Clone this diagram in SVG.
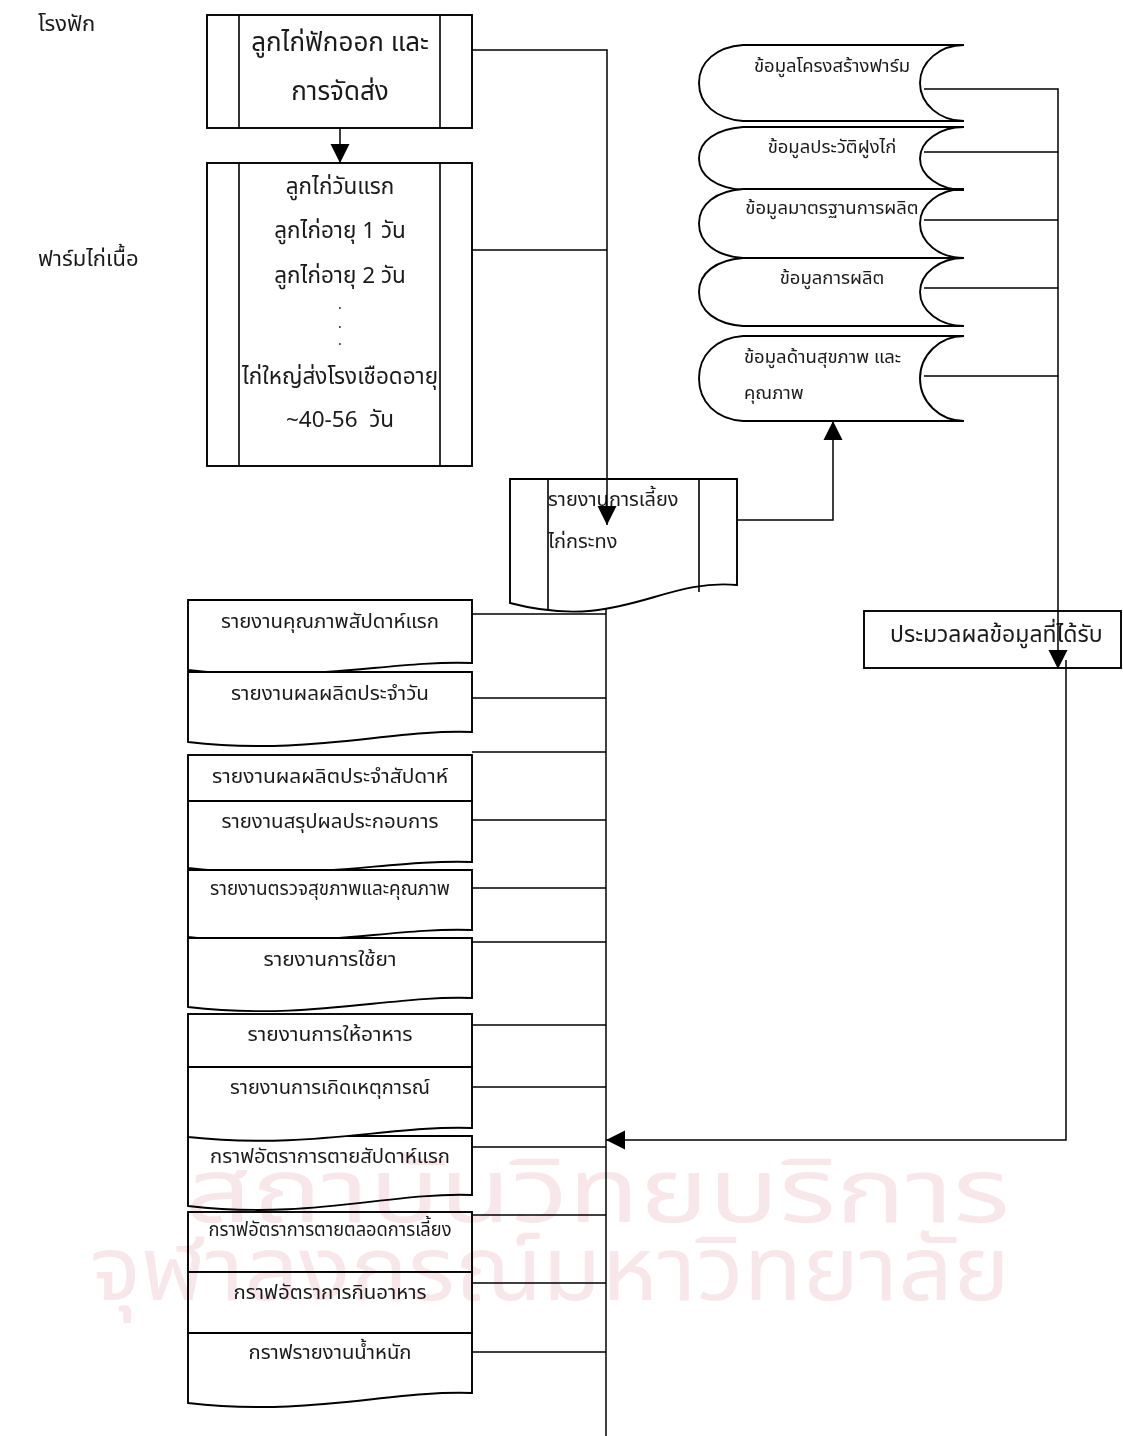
<svg xmlns="http://www.w3.org/2000/svg" width="1123" height="1436" viewBox="0 0 1123 1436">
<defs>
<style>
.s{fill:#fff;stroke:#000;stroke-width:1.9}
.b{fill:none;stroke:#000;stroke-width:1.6}
.c{fill:none;stroke:#000;stroke-width:1.5}
text{font-family:"Noto Sans Thai","Tahoma","DejaVu Sans",sans-serif;fill:#1a1a1a}
.t1{font-size:26px}
.t2{font-size:22.5px}
.tr{font-size:20px}
.t3{font-size:18.5px}
.t5{font-size:20px}
.tp{font-size:23px}
.tl{font-size:22px}
.t4{font-size:14px}
.m{text-anchor:middle}
.wm{font-size:90px;fill:#f7e7eb}
#watermark{mix-blend-mode:multiply}
</style>
<marker id="ah" viewBox="0 0 10 10" refX="10" refY="5" markerWidth="19" markerHeight="20" markerUnits="userSpaceOnUse" orient="auto">
<path d="M0,0 L10,5 L0,10 Z" fill="#000"/>
</marker>
</defs>
<rect width="1123" height="1436" fill="#fff"/>
<g id="lane-labels">
<text class="tl" x="38" y="31">โรงฟัก</text>
<text class="tl" x="38" y="266">ฟาร์มไก่เนื้อ</text>
</g>
<g id="hatchery">
<rect class="s" x="207" y="15" width="265" height="113"/>
<path class="b" d="M239,15 V128 M440,15 V128"/>
<text class="t1 m" x="340" y="51">ลูกไก่ฟักออก และ</text>
<text class="t1 m" x="340" y="100">การจัดส่ง</text>
</g>
<g id="farm">
<rect class="s" x="207" y="163" width="265" height="303"/>
<path class="b" d="M239,163 V466 M440,163 V466"/>
<text class="t2 m" x="340" y="194">ลูกไก่วันแรก</text>
<text class="t2 m" x="340" y="238">ลูกไก่อายุ 1 วัน</text>
<text class="t2 m" x="340" y="283">ลูกไก่อายุ 2 วัน</text>
<text class="t4 m" x="340" y="309">.</text>
<text class="t4 m" x="340" y="328">.</text>
<text class="t4 m" x="340" y="345">.</text>
<text class="t2 m" x="340" y="384">ไก่ใหญ่ส่งโรงเชือดอายุ</text>
<text class="t2 m" x="340" y="427" xml:space="preserve">~40-56  วัน</text>
</g>
<g id="broiler-report">
<path class="s" d="M510,479 H737 V585 C660,578 620,632 510,603 Z"/>
<path class="b" d="M548,479 V611 M699,479 V592"/>
<text class="tr" x="548" y="506">รายงานการเลี้ยง</text>
<text class="tr" x="548" y="548">ไก่กระทง</text>
</g>
<g id="data-farm-structure">
<path class="s" d="M743,45 H964 A44,38 0 0 0 964,121 H743 C716,119 699,104 699,83 C699,62 716,47 743,45 Z"/>
<text class="t3 m" x="832" y="72">ข้อมูลโครงสร้างฟาร์ม</text>
</g>
<g id="data-flock-history">
<path class="s" d="M743,127 H964 A44,31.5 0 0 0 964,190 H743 C716,188 699,176 699,158.5 C699,141 716,129 743,127 Z"/>
<text class="t3 m" x="832" y="153">ข้อมูลประวัติฝูงไก่</text>
</g>
<g id="data-standard">
<path class="s" d="M743,189 H964 A44,34.5 0 0 0 964,258 H743 C716,256 699,243 699,223.5 C699,204 716,191 743,189 Z"/>
<text class="t3 m" x="832" y="214">ข้อมูลมาตรฐานการผลิต</text>
</g>
<g id="data-production">
<path class="s" d="M743,258 H964 A44,34 0 0 0 964,326 H743 C716,324 699,311 699,292 C699,273 716,260 743,258 Z"/>
<text class="t3 m" x="832" y="284">ข้อมูลการผลิต</text>
</g>
<g id="data-health">
<path class="s" d="M743,336 H964 A44,42.5 0 0 0 964,421 H743 C716,419 699,402 699,378.5 C699,355 716,338 743,336 Z"/>
<text class="t3" x="744" y="363">ข้อมูลด้านสุขภาพ และ</text>
<text class="t3" x="744" y="399">คุณภาพ</text>
</g>
<g id="process">
<rect class="s" x="864" y="611" width="257" height="57"/>
<text class="tp" x="890" y="642">ประมวลผลข้อมูลที่ได้รับ</text>
</g>
<g id="doc-week1-quality">
<path class="s" d="M188,600 H472 V663 C390,660 310,684 188,670 Z"/>
<text class="t5 m" x="330" y="628" textLength="218" lengthAdjust="spacingAndGlyphs">รายงานคุณภาพสัปดาห์แรก</text>
</g>
<g id="doc-daily">
<path class="s" d="M188,672 H472 V732 C390,729 310,756 188,742 Z"/>
<text class="t5 m" x="330" y="700" textLength="198" lengthAdjust="spacingAndGlyphs">รายงานผลผลิตประจำวัน</text>
</g>
<g id="doc-weekly">
<rect class="s" x="188" y="755" width="284" height="46"/>
<text class="t5 m" x="330" y="783" textLength="236" lengthAdjust="spacingAndGlyphs">รายงานผลผลิตประจำสัปดาห์</text>
</g>
<g id="doc-summary">
<path class="s" d="M188,801 H472 V862 C390,859 310,882 188,868 Z"/>
<text class="t5 m" x="330" y="828" textLength="217" lengthAdjust="spacingAndGlyphs">รายงานสรุปผลประกอบการ</text>
</g>
<g id="doc-health">
<path class="s" d="M188,870 H472 V930 C390,927 310,951 188,937 Z"/>
<text class="t5 m" x="330" y="895" textLength="240" lengthAdjust="spacingAndGlyphs">รายงานตรวจสุขภาพและคุณภาพ</text>
</g>
<g id="doc-drug">
<path class="s" d="M188,938 H472 V998 C390,995 310,1021 188,1007 Z"/>
<text class="t5 m" x="330" y="966" textLength="133" lengthAdjust="spacingAndGlyphs">รายงานการใช้ยา</text>
</g>
<g id="doc-feeding">
<rect class="s" x="188" y="1014" width="284" height="53"/>
<text class="t5 m" x="330" y="1041" textLength="165" lengthAdjust="spacingAndGlyphs">รายงานการให้อาหาร</text>
</g>
<g id="doc-week1-mortality">
<path class="s" d="M188,1136 H472 V1195 C390,1192 310,1220 188,1206 Z"/>
<text class="t5 m" x="330" y="1163" textLength="240" lengthAdjust="spacingAndGlyphs">กราฟอัตราการตายสัปดาห์แรก</text>
</g>
<g id="doc-incident">
<path class="s" d="M188,1067 H472 V1128 C390,1125 310,1150 188,1137 Z"/>
<text class="t5 m" x="330" y="1094" textLength="200" lengthAdjust="spacingAndGlyphs">รายงานการเกิดเหตุการณ์</text>
</g>
<g id="doc-mortality">
<rect class="s" x="188" y="1212" width="284" height="60"/>
<text class="t5 m" x="330" y="1236" textLength="243" lengthAdjust="spacingAndGlyphs">กราฟอัตราการตายตลอดการเลี้ยง</text>
</g>
<g id="doc-feed-rate">
<rect class="s" x="188" y="1272" width="284" height="61"/>
<text class="t5 m" x="330" y="1299" textLength="193" lengthAdjust="spacingAndGlyphs">กราฟอัตราการกินอาหาร</text>
</g>
<g id="doc-weight">
<path class="s" d="M188,1333 H472 V1393 C390,1390 310,1417 188,1403 Z"/>
<text class="t5 m" x="330" y="1359" textLength="163" lengthAdjust="spacingAndGlyphs">กราฟรายงานน้ำหนัก</text>
</g>
<g id="connectors">
<path class="c" d="M472,50 H607 V525" marker-end="url(#ah)"/>
<path class="c" d="M472,250 H607"/>
<path class="c" d="M340,128 V163" marker-end="url(#ah)"/>
<path class="c" d="M737,520 H833 V421" marker-end="url(#ah)"/>
<path class="c" d="M924,89 H1058 V669" marker-end="url(#ah)"/>
<path class="c" d="M924,152 H1058 M924,220 H1058 M924,288 H1058 M924,376 H1058"/>
<path class="c" d="M1066,660 V1140 H606" marker-end="url(#ah)"/>
<path class="c" d="M606,608 V1436"/>
<path class="c" d="M472,614 H606 M472,698 H606 M472,752 H606 M472,820 H606 M472,888 H606 M472,942 H606 M472,1025 H606 M472,1087 H606 M472,1147 H606 M472,1215 H606 M472,1283 H606 M472,1352 H606"/>
</g>
<g id="watermark">
<text class="wm" x="185" y="1222" textLength="825" lengthAdjust="spacingAndGlyphs">สถาบันวิทยบริการ</text>
<text class="wm" x="90" y="1300" textLength="920" lengthAdjust="spacingAndGlyphs">จุฬาลงกรณ์มหาวิทยาลัย</text>
</g>
</svg>
